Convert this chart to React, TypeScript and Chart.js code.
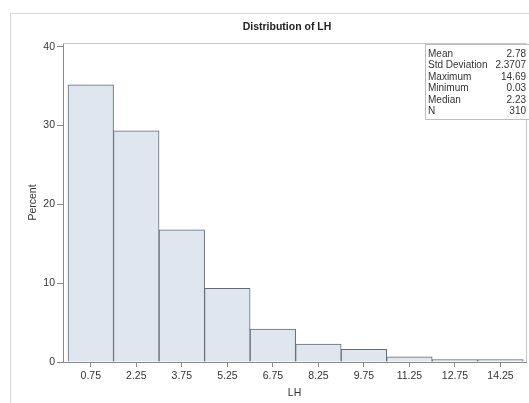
import React, { useEffect, useRef } from "react";
import { Chart, registerables } from "chart.js";

Chart.register(...registerables);

const binMidpoints = [0.75, 2.25, 3.75, 5.25, 6.75, 8.25, 9.75, 11.25, 12.75, 14.25];
const binPercents = [35.16, 29.35, 16.77, 9.35, 4.19, 2.26, 1.61, 0.65, 0.32, 0.32];
const xTickValues = [0.75, 2.25, 3.75, 5.25, 6.75, 8.25, 9.75, 11.25, 12.75, 14.25];
const yTickValues = [0, 10, 20, 30, 40];
const statLabels = ["Mean", "Std Deviation", "Maximum", "Minimum", "Median", "N"];
const statValues = ["2.78", "2.3707", "14.69", "0.03", "2.23", "310"];
const chartTitle = "Distribution of LH";
const xTitle = "LH";
const yTitle = "Percent";

const FONT = "'Liberation Sans', Arial, sans-serif";
const TEXT = "#333333";
const AXIS = "#8a8a8a";

const decorPlugin = {
  id: "decor",
  beforeDraw(chart: any) {
    const { ctx, width, height } = chart;
    ctx.save();
    ctx.fillStyle = "#ffffff";
    ctx.fillRect(0, 0, width, height);
    ctx.strokeStyle = "#d9d9d9";
    ctx.lineWidth = 1;
    ctx.strokeRect(10.5, 13.5, width + 20, height + 20);
    ctx.restore();
  },
  afterDraw(chart: any) {
    const { ctx, chartArea } = chart;
    ctx.save();
    ctx.strokeStyle = "#c8c8c8";
    ctx.lineWidth = 1;
    ctx.beginPath();
    ctx.moveTo(chartArea.left, chartArea.top + 0.5);
    ctx.lineTo(chartArea.right + 0.5, chartArea.top + 0.5);
    ctx.lineTo(chartArea.right + 0.5, chartArea.bottom);
    ctx.stroke();
    ctx.fillStyle = "#222222";
    ctx.font = `bold 10.5px ${FONT}`;
    ctx.textAlign = "center";
    ctx.textBaseline = "middle";
    ctx.fillText(chartTitle, 287, 27);
    const bx = 425.5, by = 44.5, bw = 104, bh = 75;
    ctx.fillStyle = "#ffffff";
    ctx.fillRect(bx, by, bw, bh);
    ctx.strokeStyle = "#bdbdbd";
    ctx.strokeRect(bx, by, bw, bh);
    ctx.font = `10px ${FONT}`;
    ctx.fillStyle = TEXT;
    statLabels.forEach((lab, i) => {
      const y = 54 + i * 11.5;
      ctx.textAlign = "left";
      ctx.fillText(lab, 428, y);
      ctx.textAlign = "right";
      ctx.fillText(statValues[i], 526, y);
    });
    ctx.restore();
  },
};

export default function App() {
  const ref = useRef<HTMLCanvasElement>(null);
  useEffect(() => {
    if (!ref.current) return;
    const chart = new Chart(ref.current, {
      type: "bar",
      data: {
        datasets: [
          {
            data: binMidpoints.map((x, i) => ({ x, y: binPercents[i] })),
            backgroundColor: "#dfe6f0",
            borderColor: "#626a76",
            borderWidth: 1,
            barPercentage: 1,
            categoryPercentage: 1,
          },
        ],
      },
      options: {
        responsive: false,
        animation: false,
        layout: { padding: { left: 23, right: 3, top: 43, bottom: 0 } },
        plugins: { legend: { display: false }, tooltip: { enabled: false }, title: { display: false } },
        scales: {
          x: {
            type: "linear",
            offset: false,
            min: -0.165,
            max: 15.09,
            afterBuildTicks: (s: any) => {
              s.ticks = xTickValues.map((v) => ({ value: v }));
            },
            afterFit: (s: any) => {
              s.height = 41;
            },
            grid: { drawOnChartArea: false, drawTicks: true, tickLength: 5, color: AXIS, offset: false },
            border: { display: true, color: AXIS },
            ticks: {
              autoSkip: false,
              maxRotation: 0,
              padding: 3,
              color: TEXT,
              font: { family: FONT, size: 10.5 },
              callback: (v: any) => Number(v).toFixed(2),
            },
            title: { display: true, text: xTitle, color: TEXT, font: { family: FONT, size: 10.5 } },
          },
          y: {
            type: "linear",
            min: 0,
            max: 40.48,
            afterBuildTicks: (s: any) => {
              s.ticks = yTickValues.map((v) => ({ value: v }));
            },
            afterFit: (s: any) => {
              s.width = 40;
            },
            grid: { drawOnChartArea: false, drawTicks: true, tickLength: 6, color: AXIS },
            border: { display: true, color: AXIS },
            ticks: {
              padding: 2,
              color: TEXT,
              font: { family: FONT, size: 10.5 },
            },
            title: { display: true, text: yTitle, color: TEXT, font: { family: FONT, size: 10.5 } },
          },
        },
      },
      plugins: [decorPlugin],
    } as any);
    return () => chart.destroy();
  }, []);
  return (
    <div style={{ position: "fixed", left: 0, top: 0, width: 529, height: 403 }}>
      <canvas ref={ref} width={529} height={403} />
    </div>
  );
}
